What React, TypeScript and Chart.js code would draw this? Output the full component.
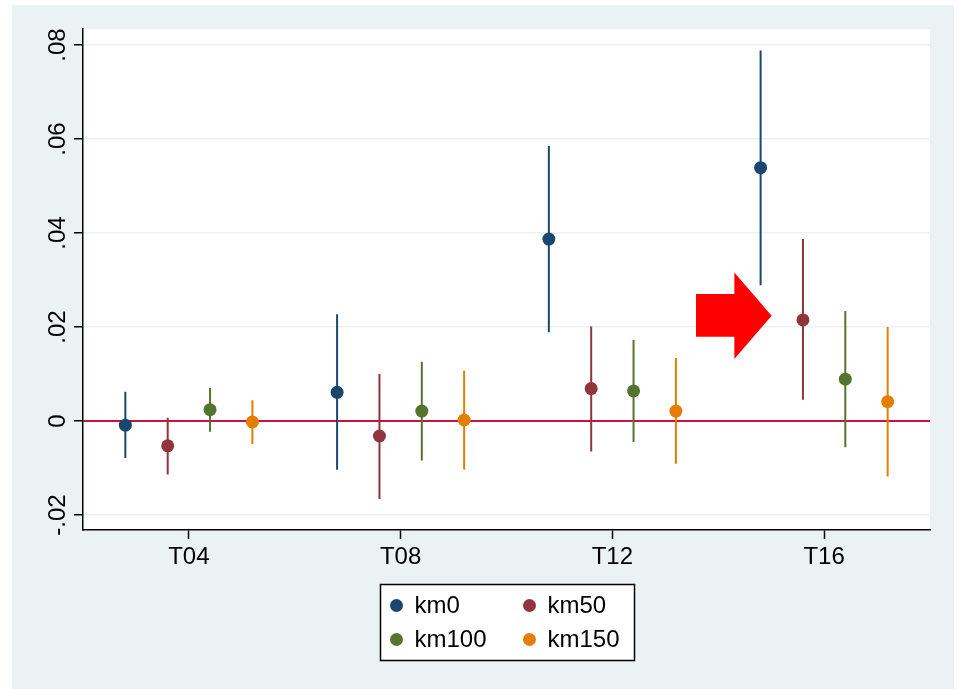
import React, { useEffect, useRef } from 'react';
import { Chart, registerables } from 'chart.js';

Chart.register(...registerables);

// ---------- data ----------
const categories = ['T04', 'T08', 'T12', 'T16'];
const seriesNames = ['km0', 'km50', 'km100', 'km150'];

const km0Coef = [-0.0009, 0.0061, 0.0387, 0.0539];
const km0Lo = [-0.0079, -0.0104, 0.0189, 0.0289];
const km0Hi = [0.0062, 0.0227, 0.0585, 0.0788];

const km50Coef = [-0.0053, -0.0032, 0.0069, 0.0215];
const km50Lo = [-0.0114, -0.0166, -0.0065, 0.0045];
const km50Hi = [0.0007, 0.01, 0.0201, 0.0387];

const km100Coef = [0.0024, 0.0021, 0.0064, 0.0089];
const km100Lo = [-0.0023, -0.0084, -0.0045, -0.0056];
const km100Hi = [0.007, 0.0126, 0.0173, 0.0234];

const km150Coef = [-0.0002, 0.0002, 0.0021, 0.0041];
const km150Lo = [-0.0049, -0.0104, -0.0091, -0.0118];
const km150Hi = [0.0044, 0.0107, 0.0134, 0.02];

const yTickValues = [-0.02, 0, 0.02, 0.04, 0.06, 0.08];
const yTickLabels = ['-.02', '0', '.02', '.04', '.06', '.08'];

// arrow annotation (data units)
const arrowTailX = 2.395;
const arrowHeadBaseX = 2.576;
const arrowTipX = 2.752;
const arrowBodyTop = 0.027;
const arrowBodyBottom = 0.0179;
const arrowHeadTop = 0.0316;
const arrowHeadBottom = 0.0132;
const arrowTipY = 0.0224;

// ---------- styles ----------
const COLORS = ['#1A476F', '#90353B', '#55752F', '#E37E00'];
const OFFSETS = [-0.3, -0.1, 0.1, 0.3];
const FONT = '"Liberation Sans", Arial, Helvetica, sans-serif';
const BG = '#EAF2F3';

const coefs = [km0Coef, km50Coef, km100Coef, km150Coef];
const los = [km0Lo, km50Lo, km100Lo, km150Lo];
const his = [km0Hi, km50Hi, km100Hi, km150Hi];

const stataPlugin = {
  id: 'stataDecor',
  beforeDraw(chart: any) {
    const { ctx, width, height, chartArea: a } = chart;
    ctx.save();
    ctx.fillStyle = '#ffffff';
    ctx.fillRect(0, 0, width, height);
    ctx.fillStyle = BG;
    ctx.fillRect(12, 5, 942, height - 5);
    ctx.fillStyle = '#ffffff';
    ctx.fillRect(a.left, a.top, a.right - a.left, a.bottom - a.top);
    ctx.restore();
  },
  beforeDatasetsDraw(chart: any) {
    const { ctx, chartArea: a, scales } = chart;
    const y0 = scales.y.getPixelForValue(0);
    ctx.save();
    ctx.strokeStyle = '#C8133F';
    ctx.lineWidth = 2;
    ctx.beginPath();
    ctx.moveTo(a.left, y0);
    ctx.lineTo(a.right, y0);
    ctx.stroke();
    ctx.restore();
  },
  afterDraw(chart: any) {
    const { ctx, chartArea: a, scales } = chart;
    const xs = scales.x;
    const ys = scales.y;
    ctx.save();
    // y tick labels (rotated)
    ctx.fillStyle = '#000';
    ctx.font = `24px ${FONT}`;
    ctx.textAlign = 'center';
    ctx.textBaseline = 'alphabetic';
    yTickValues.forEach((v, i) => {
      const py = ys.getPixelForValue(v);
      ctx.save();
      ctx.translate(a.left - 18, py);
      ctx.rotate(-Math.PI / 2);
      ctx.fillText(yTickLabels[i], 0, 0);
      ctx.restore();
    });

    // arrow
    ctx.fillStyle = '#FF0000';
    ctx.beginPath();
    ctx.moveTo(xs.getPixelForValue(arrowTailX), ys.getPixelForValue(arrowBodyTop));
    ctx.lineTo(xs.getPixelForValue(arrowHeadBaseX), ys.getPixelForValue(arrowBodyTop));
    ctx.lineTo(xs.getPixelForValue(arrowHeadBaseX), ys.getPixelForValue(arrowHeadTop));
    ctx.lineTo(xs.getPixelForValue(arrowTipX), ys.getPixelForValue(arrowTipY));
    ctx.lineTo(xs.getPixelForValue(arrowHeadBaseX), ys.getPixelForValue(arrowHeadBottom));
    ctx.lineTo(xs.getPixelForValue(arrowHeadBaseX), ys.getPixelForValue(arrowBodyBottom));
    ctx.lineTo(xs.getPixelForValue(arrowTailX), ys.getPixelForValue(arrowBodyBottom));
    ctx.closePath();
    ctx.fill();

    // legend
    const boxW = 254;
    const boxH = 76;
    const cx = (a.left + a.right) / 2;
    const bx = Math.round(cx - boxW / 2) + 0.5;
    const by = 584.5;
    ctx.fillStyle = '#ffffff';
    ctx.fillRect(bx, by, boxW, boxH);
    ctx.strokeStyle = '#000';
    ctx.lineWidth = 1.5;
    ctx.strokeRect(bx, by, boxW, boxH);
    ctx.font = `24px ${FONT}`;
    ctx.textAlign = 'left';
    ctx.textBaseline = 'middle';
    seriesNames.forEach((name, i) => {
      const col = i % 2;
      const row = Math.floor(i / 2);
      const mx = bx + 16 + col * 133;
      const my = by + 21 + row * 34;
      ctx.fillStyle = COLORS[i];
      ctx.beginPath();
      ctx.arc(mx, my, 6.5, 0, Math.PI * 2);
      ctx.fill();
      ctx.fillStyle = '#000';
      ctx.fillText(name, mx + 18, my + 1);
    });
    ctx.restore();
  },
};

export default function App() {
  const ref = useRef<HTMLCanvasElement | null>(null);

  useEffect(() => {
    if (!ref.current) return;
    const datasets: any[] = [];
    seriesNames.forEach((name, s) => {
      datasets.push({
        type: 'scatter',
        label: name,
        data: categories.map((_, i) => ({ x: i + OFFSETS[s], y: coefs[s][i] })),
        backgroundColor: COLORS[s],
        borderColor: COLORS[s],
        pointRadius: 6.5,
        pointBorderWidth: 0,
        pointHoverRadius: 6.5,
        order: 0,
      });
    });
    seriesNames.forEach((name, s) => {
      const pts: any[] = [];
      categories.forEach((_, i) => {
        const x = i + OFFSETS[s];
        pts.push({ x, y: los[s][i] });
        pts.push({ x, y: his[s][i] });
        pts.push({ x, y: null });
      });
      datasets.push({
        type: 'line',
        label: name + ' CI',
        data: pts,
        borderColor: COLORS[s],
        borderWidth: 2,
        pointRadius: 0,
        spanGaps: false,
        fill: false,
        order: 1,
      });
    });

    const chart = new Chart(ref.current, {
      type: 'scatter',
      data: { datasets },
      options: {
        responsive: false,
        animation: false,
        events: [],
        layout: { padding: { left: 0, right: 29, top: 29, bottom: 99 } },
        plugins: { legend: { display: false }, tooltip: { enabled: false } },
        scales: {
          x: {
            type: 'linear',
            min: -0.5,
            max: 3.5,
            afterBuildTicks: (s: any) => {
              s.ticks = categories.map((_, i) => ({ value: i }));
            },
            afterFit: (s: any) => {
              s.height = 60;
            },
            ticks: {
              callback: (v: any) => categories[Math.round(v)] ?? '',
              font: { family: FONT, size: 24 },
              color: '#000',
              padding: 4,
              maxRotation: 0,
              minRotation: 0,
              autoSkip: false,
            },
            grid: {
              drawOnChartArea: false,
              drawTicks: true,
              tickLength: 9,
              tickColor: '#000',
              tickWidth: 1.5,
            },
            border: { color: '#000', width: 1.5 },
          },
          y: {
            type: 'linear',
            min: -0.0232,
            max: 0.0834,
            afterBuildTicks: (s: any) => {
              s.ticks = yTickValues.map((v) => ({ value: v }));
            },
            afterFit: (s: any) => {
              s.width = 83;
            },
            ticks: { display: false },
            grid: {
              color: BG,
              lineWidth: 1.5,
              drawTicks: true,
              tickLength: 9,
              tickColor: '#000',
              tickWidth: 1.5,
            },
            border: { color: '#000', width: 1.5 },
          },
        },
      } as any,
      plugins: [stataPlugin],
    });
    return () => chart.destroy();
  }, []);

  return (
    <div style={{ position: 'absolute', left: 0, top: 0, width: 959, height: 689 }}>
      <canvas ref={ref} width={959} height={689} />
    </div>
  );
}
